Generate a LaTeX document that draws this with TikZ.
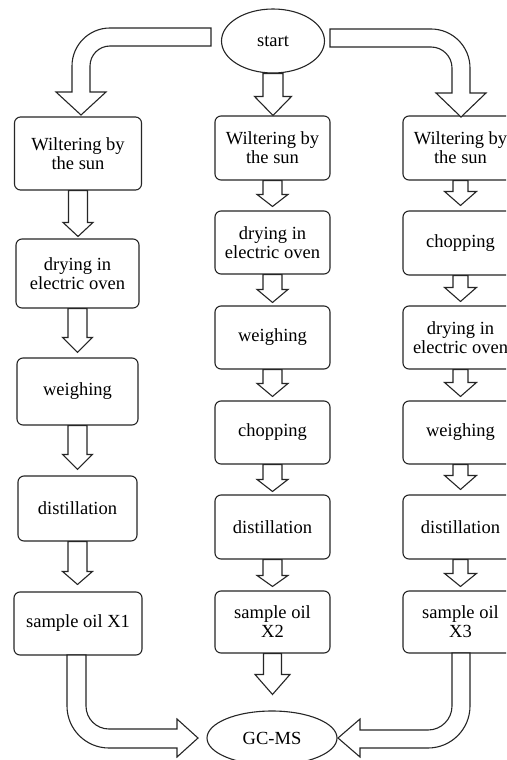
\documentclass[tikz,border=0pt]{standalone}
\usepackage{fontspec}
\setmainfont{Liberation Serif}
\usetikzlibrary{calc,shapes.geometric}
\tikzset{
  boxnode/.style={draw=black!85, line width=1.1pt, rounded corners=6pt, align=center,
    inner sep=0pt, font=\fontsize{18.5}{19}\selectfont, fill=white},
  ovalnode/.style={draw=black!85, line width=1.1pt, ellipse, inner sep=0pt,
    font=\fontsize{18.5}{19}\selectfont, fill=white},
  blk/.style={draw=black!85, line width=1.1pt, fill=white, line join=miter}
}
\newcommand\blockarrow[6]{%
  \draw[blk] let \p1=(#1.south), \p2=(#2.north) in
  (\x1-#3pt,\y1) -- (\x1-#3pt,\y2+#6pt+#5pt) -- (\x1-#4pt,\y2+#6pt+#5pt) --
  (\x1,\y2+#6pt) -- (\x1+#4pt,\y2+#6pt+#5pt) -- (\x1+#3pt,\y2+#6pt+#5pt) --
  (\x1+#3pt,\y1) -- cycle;}
\begin{document}
\begin{tikzpicture}[x=1pt,y=1pt]
\useasboundingbox (0,0) rectangle (506,-760);
\clip (0,0) rectangle (506,-760);
\fill[white] (0,0) rectangle (506,-760);

% start and end
\node[ovalnode, minimum width=103pt, minimum height=64pt] (start) at (273,-41) {start};
\node[ovalnode, minimum width=130pt, minimum height=54pt] (gcms) at (272,-738) {GC-MS};

% left column
\node[boxnode, minimum width=127pt, minimum height=73pt] (l1) at (78,-153.5) {Wiltering by\\the sun};
\node[boxnode, minimum width=123pt, minimum height=69pt] (l2) at (77.5,-273.5) {drying in\\electric oven};
\node[boxnode, minimum width=121pt, minimum height=67pt] (l3) at (77.5,-391.5) {weighing};
\node[boxnode, minimum width=119pt, minimum height=65pt] (l4) at (77.5,-508.5) {distillation};
\node[boxnode, minimum width=128pt, minimum height=63pt] (l5) at (78,-623.5) {sample oil X1};

% middle column
\node[boxnode, minimum width=115pt, minimum height=64pt] (m1) at (272.5,-148) {Wiltering by\\the sun};
\node[boxnode, minimum width=115pt, minimum height=63pt] (m2) at (272.5,-242.5) {drying in\\electric oven};
\node[boxnode, minimum width=115pt, minimum height=63pt] (m3) at (272.5,-337.5) {weighing};
\node[boxnode, minimum width=115pt, minimum height=63pt] (m4) at (272.5,-432.5) {chopping};
\node[boxnode, minimum width=115pt, minimum height=64pt] (m5) at (272.5,-527) {distillation};
\node[boxnode, minimum width=115pt, minimum height=62pt] (m6) at (272.5,-622) {sample oil\\X2};

% right column
\node[boxnode, minimum width=115pt, minimum height=64pt] (r1) at (460.5,-148) {Wiltering by\\the sun};
\node[boxnode, minimum width=115pt, minimum height=64pt] (r2) at (460.5,-243) {chopping};
\node[boxnode, minimum width=115pt, minimum height=63pt] (r3) at (460.5,-337.5) {drying in\\electric oven};
\node[boxnode, minimum width=115pt, minimum height=63pt] (r4) at (460.5,-432.5) {weighing};
\node[boxnode, minimum width=115pt, minimum height=64pt] (r5) at (460.5,-527) {distillation};
\node[boxnode, minimum width=115pt, minimum height=62pt] (r6) at (460.5,-622) {sample oil\\X3};

% small arrows left
\blockarrow{l1}{l2}{9.5}{15}{14}{2}
\blockarrow{l2}{l3}{9.5}{15}{15}{5}
\blockarrow{l3}{l4}{9.5}{15}{15}{6}
\blockarrow{l4}{l5}{9.5}{15}{13}{7}
% small arrows middle
\blockarrow{m1}{m2}{9.5}{15.5}{12}{4}
\blockarrow{m2}{m3}{9.5}{15.5}{13}{3}
\blockarrow{m3}{m4}{9.5}{15.5}{13}{4}
\blockarrow{m4}{m5}{9.5}{15.5}{12}{3}
\blockarrow{m5}{m6}{9.5}{15.5}{11}{4}
% small arrows right
\blockarrow{r1}{r2}{7.5}{16}{14}{5}
\blockarrow{r2}{r3}{7.5}{16}{14}{4}
\blockarrow{r3}{r4}{7.5}{16}{14}{4}
\blockarrow{r4}{r5}{7.5}{16}{14}{5}
\blockarrow{r5}{r6}{7.5}{16}{13}{4}
% medium arrows
\blockarrow{start}{m1}{10}{18.5}{19}{0}
\blockarrow{m6}{gcms}{9}{17.5}{20}{16}

% bent arrows
\draw[blk] (211,-28) -- (110,-28) arc[start angle=90, end angle=180, radius=38]
  -- (72,-92) -- (56,-92) -- (81,-115) -- (106,-92) -- (90,-92) -- (90,-66)
  arc[start angle=180, end angle=90, radius=20] -- (211,-46) -- cycle;
\draw[blk] (330,-29) -- (431,-29) arc[start angle=90, end angle=0, radius=39]
  -- (470,-93) -- (486,-93) -- (461,-117) -- (436,-93) -- (452,-93) -- (452,-68)
  arc[start angle=0, end angle=90, radius=21] -- (330,-47) -- cycle;
\draw[blk] (67,-655) -- (67,-706) arc[start angle=180, end angle=270, radius=42]
  -- (177,-748) -- (177,-757) -- (198,-738) -- (177,-719) -- (177,-729) -- (109,-729)
  arc[start angle=270, end angle=180, radius=23] -- (86,-655) -- cycle;
\draw[blk] (470,-653) -- (470,-706) arc[start angle=0, end angle=-90, radius=42]
  -- (360,-748) -- (360,-757) -- (338,-738) -- (360,-719) -- (360,-730) -- (428,-730)
  arc[start angle=-90, end angle=0, radius=24] -- (452,-653) -- cycle;
\end{tikzpicture}
\end{document}
